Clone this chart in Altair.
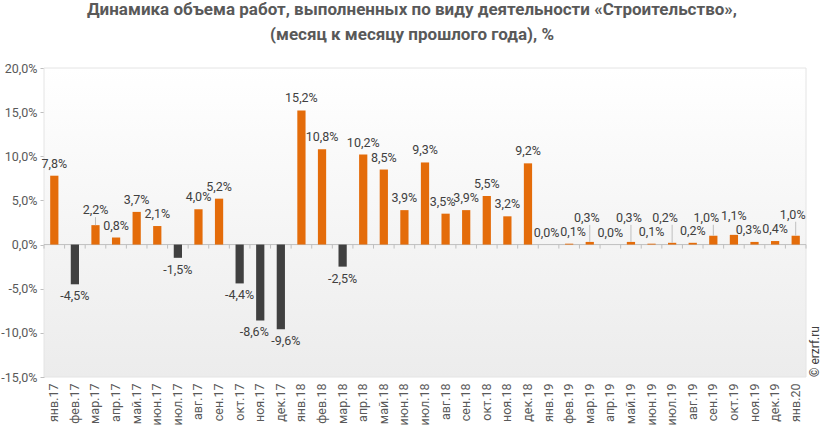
import altair as alt
import pandas as pd

# Monthly construction volume, change vs. same month of previous year, %
months = [
    "янв.17", "фев.17", "мар.17", "апр.17", "май.17", "июн.17", "июл.17", "авг.17", "сен.17", "окт.17", "ноя.17", "дек.17",
    "янв.18", "фев.18", "мар.18", "апр.18", "май.18", "июн.18", "июл.18", "авг.18", "сен.18", "окт.18", "ноя.18", "дек.18",
    "янв.19", "фев.19", "мар.19", "апр.19", "май.19", "июн.19", "июл.19", "авг.19", "сен.19", "окт.19", "ноя.19", "дек.19",
    "янв.20",
]
values = [
    7.8, -4.5, 2.2, 0.8, 3.7, 2.1, -1.5, 4.0, 5.2, -4.4, -8.6, -9.6,
    15.2, 10.8, -2.5, 10.2, 8.5, 3.9, 9.3, 3.5, 3.9, 5.5, 3.2, 9.2,
    0.0, 0.1, 0.3, 0.0, 0.3, 0.1, 0.2, 0.2, 1.0, 1.1, 0.3, 0.4,
    1.0,
]

title_lines = [
    "Динамика объема работ, выполненных по виду деятельности «Строительство»,",
    "(месяц к месяцу прошлого года), %",
]
y_ticks = [-15, -10, -5, 0, 5, 10, 15, 20]

# Label placement tweaks (pixels) so that neighbouring small labels don't collide
label_lift = {2: 3, 26: 12, 28: 12, 30: 13, 32: 6, 33: 7, 36: 9}
label_shift = {10: -6, 11: 5, 19: -3, 24: -2, 25: 4, 26: -3, 28: -2, 30: -7, 32: -7, 34: -6, 36: -3}
leader_rows = [2, 26, 28, 30, 32, 36]

W, H = 762, 309
Y_MIN, Y_MAX = -15, 20
PPU = H / (Y_MAX - Y_MIN)
LABEL_GAP = 12
TICK_LEN = 4

ORANGE = "#E46C0A"
DARK = "#404040"
AXIS_GREY = "#BFBFBF"
TEXT_GREY = "#595959"
FONT = "Roboto"


def pct_expr(ref):
    # "12,3%" style with a plain hyphen for negatives
    return f"replace(replace(format({ref}, '.1f'), '.', ','), '\u2212', '-') + '%'"


rows = []
for i, (m, v) in enumerate(zip(months, values)):
    lift = label_lift.get(i, 0)
    up = LABEL_GAP + lift
    rows.append({
        "month": m,
        "v": v,
        "label_y": v + up / PPU if v >= 0 else v - LABEL_GAP / PPU,
        "ox": label_shift.get(i, 0),
        "lead": i in leader_rows,
        "lead_top": v + (up - 7) / PPU,
        "last": i == len(months) - 1,
    })
df = pd.DataFrame(rows)

bar_band = alt.Scale(domain=months, paddingInner=0.6, paddingOuter=0.3)
full_band = alt.Scale(domain=months, paddingInner=0, paddingOuter=0)
y_scale = alt.Scale(domain=[Y_MIN, Y_MAX], nice=False, zero=False)
y_axis = alt.Axis(
    title=None, values=y_ticks, grid=False, tickSize=4, tickColor=AXIS_GREY,
    domainColor=AXIS_GREY, labelPadding=3, labelFont=FONT, labelFontSize=12.5,
    labelColor=TEXT_GREY,
    labelExpr=pct_expr("datum.value"),
)
x_axis = alt.Axis(
    title=None, labelAngle=270, domain=False, ticks=False, labelPadding=6,
    labelFont=FONT, labelFontSize=12.5, labelColor=TEXT_GREY,
)


def xm(axis=None, scale=bar_band, **kw):
    return alt.X("month:N", sort=months, scale=scale, axis=axis, **kw)


def yq(field):
    return alt.Y(field, scale=y_scale, axis=y_axis)


base = alt.Chart(df)
one = pd.DataFrame({"a": [0]})

backdrop = alt.Chart(one).mark_rect(
    color=alt.Gradient(
        gradient="linear",
        stops=[alt.GradientStop(color="#FFFFFF", offset=0), alt.GradientStop(color="#ECECEC", offset=1)],
        x1=0, x2=0, y1=0, y2=1,
    ),
    stroke="#E4E4E4",
    strokeWidth=1,
).encode(x=alt.value(0), x2=alt.value(W), y=alt.value(0), y2=alt.value(H))

bars = base.mark_bar().encode(
    x=xm(axis=x_axis),
    y=yq("v:Q"),
    y2=alt.datum(0),
    color=alt.condition(alt.datum.v < 0, alt.value(DARK), alt.value(ORANGE)),
)

# Zero line with short ticks between months
zero_line = alt.Chart(one).mark_rule(color=AXIS_GREY, strokeWidth=1).encode(
    x=alt.value(0), x2=alt.value(W), y=alt.datum(0)
)
tick_y = alt.datum(0)
tick_y2 = alt.datum(-TICK_LEN / PPU)
ticks_left = base.mark_rule(color=AXIS_GREY, strokeWidth=1).encode(
    x=xm(scale=full_band, bandPosition=0), y=tick_y, y2=tick_y2
)
ticks_right = base.transform_filter(alt.datum.last).mark_rule(color=AXIS_GREY, strokeWidth=1).encode(
    x=xm(scale=full_band, bandPosition=1), y=tick_y, y2=tick_y2
)

leaders = base.transform_filter(alt.datum.lead).mark_rule(color=AXIS_GREY, strokeWidth=1).encode(
    x=xm(), y=yq("v:Q"), y2="lead_top:Q"
)

label_layers = []
for shift in sorted(set(df["ox"])):
    label_layers.append(
        base.transform_filter(alt.datum.ox == shift)
        .transform_calculate(txt=pct_expr("datum.v"))
        .mark_text(font=FONT, fontSize=12.5, color=DARK, baseline="middle", dx=float(shift))
        .encode(x=xm(), y=yq("label_y:Q"), text="txt:N")
    )

mark_sign = alt.Chart(one).mark_text(
    text="© erzrf.ru", angle=270, align="left", baseline="middle",
    font=FONT, fontSize=12, color=DARK,
).encode(x=alt.value(W + 9), y=alt.value(H))

chart = alt.layer(
    backdrop, zero_line, ticks_left, ticks_right, bars, leaders, *label_layers, mark_sign
).resolve_scale(
    x="independent"
).properties(
    width=W,
    height=H,
    title=alt.TitleParams(
        text=title_lines, font=FONT, fontSize=17, fontWeight="bold", color=TEXT_GREY,
        anchor="middle", dx=-13, offset=18, lineHeight=25,
    ),
    autosize=alt.AutoSizeParams(type="none"),
    padding={"left": 44, "top": 68, "right": 18, "bottom": 54},
).configure_view(stroke=None)

chart.save("out.html", embed_options={"renderer": "svg", "actions": False})
